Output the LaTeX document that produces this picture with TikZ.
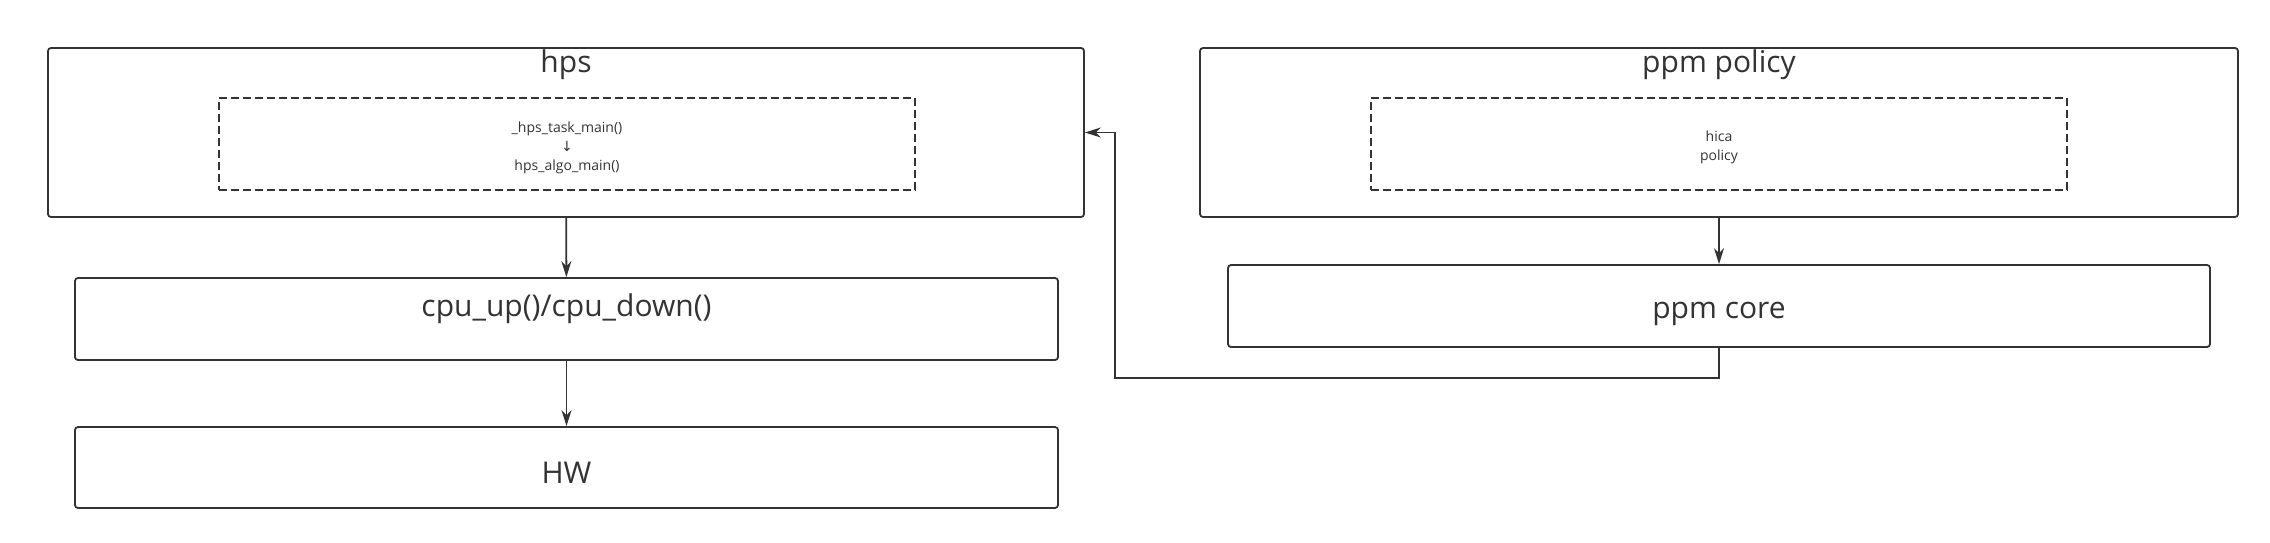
\documentclass[tikz,border=0pt]{standalone}
\usepackage{fontspec}
\setmainfont{Open Sans}
\newfontfamily\symfont{DejaVu Sans}
\usetikzlibrary{arrows.meta}
\definecolor{ink}{HTML}{333333}
\begin{document}
\begin{tikzpicture}[x=0.5pt,y=-0.5pt,
  box/.style={draw=ink,line width=0.9pt,rounded corners=1.5pt,inner sep=0pt},
  dashbox/.style={draw=ink,line width=0.8pt,dash pattern=on 4pt off 2pt,inner sep=0pt,text=ink,align=center,font=\fontsize{7}{9.5}\selectfont},
  title/.style={text=ink,font=\fontsize{15}{18}\selectfont,inner sep=0pt},
  link/.style={draw=ink,line width=0.9pt,-{Stealth[length=8pt,width=5pt]}}]
\useasboundingbox (0,0) rectangle (2270,542);

\node[box,minimum width=518pt,minimum height=84.5pt] (hps) at (566,132.5) {};
\node[title] (hpstitle) at (566,65) {hps};
\node[dashbox,minimum width=348pt,minimum height=46pt,text height=28pt] (hpsmain) at (567,144)
  {\_hps\_task\_main()\\{\symfont ↓}\\hps\_algo\_main()};

\node[box,minimum width=491.5pt,minimum height=41pt] (cpu) at (566.5,319) {};
\node[title] (cputext) at (566.5,309) {cpu\_up()/cpu\_down()};

\node[box,minimum width=491.5pt,minimum height=40.5pt] (hw) at (566.5,467.5) {};
\node[title] (hwtext) at (566.5,473) {HW};

\node[box,minimum width=519pt,minimum height=84.5pt] (policy) at (1719,132.5) {};
\node[title] (policytitle) at (1719,65) {ppm policy};
\node[dashbox,minimum width=348pt,minimum height=46pt,text height=18.5pt] (hica) at (1719,144) {hica\\policy};

\node[box,minimum width=491pt,minimum height=41pt] (core) at (1719,306) {};
\node[title] (coretext) at (1719,314) {ppm core};

\coordinate (bend) at (1115,378);

\draw[link] (hps) -- (cpu);
\draw[link] (cpu) -- (hw);
\draw[link] (policy) -- (core);
\draw[link] (core.south) |- (bend) |- (hps.east);
\end{tikzpicture}
\end{document}
